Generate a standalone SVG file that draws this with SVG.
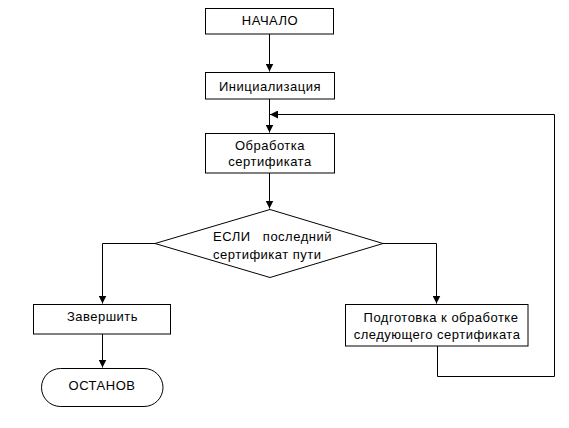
<svg xmlns="http://www.w3.org/2000/svg" width="569" height="428" viewBox="0 0 569 428">
<defs>
<style>
.box{fill:#fff;stroke:#000;stroke-width:1}
.ln{fill:none;stroke:#000;stroke-width:1}
text{font-family:"Liberation Sans",Arial,sans-serif;font-size:13px;fill:#000;letter-spacing:0.5px}
.c{text-anchor:middle}
</style>
<marker id="ah" viewBox="0 0 10 10" refX="10" refY="5" markerWidth="8" markerHeight="8" markerUnits="userSpaceOnUse" orient="auto">
<path d="M0,0 L10,5 L0,10 z" fill="#000"/>
</marker>
</defs>
<rect width="569" height="428" fill="#fff"/>
<g id="connectors">
<path class="ln" d="M269.5,34 V71.5" marker-end="url(#ah)"/>
<path class="ln" d="M269.5,99 V132.5" marker-end="url(#ah)"/>
<path class="ln" d="M269.5,173 V208.5" marker-end="url(#ah)"/>
<path class="ln" d="M155,243.5 H102.5 V303.5" marker-end="url(#ah)"/>
<path class="ln" d="M102.5,334 V367.5" marker-end="url(#ah)"/>
<path class="ln" d="M383,243.5 H436.5 V303.5" marker-end="url(#ah)"/>
<path class="ln" d="M437.5,346 V376.5 H554.5 V114.5 H270" marker-end="url(#ah)"/>
</g>
<g id="start">
<rect class="box" x="205.5" y="8.5" width="128" height="25.5"/>
<text class="c" x="270" y="25">НАЧАЛО</text>
</g>
<g id="init">
<rect class="box" x="205.5" y="72.5" width="129" height="26.5"/>
<text class="c" x="270" y="91">Инициализация</text>
</g>
<g id="process">
<rect class="box" x="205.5" y="133.5" width="129" height="39.5"/>
<text class="c" x="270" y="150">Обработка</text>
<text class="c" x="270" y="166">сертификата</text>
</g>
<g id="decision">
<polygon class="box" points="270,209.5 383,243.5 270,277.5 155,243.5"/>
<text x="213" y="241" xml:space="preserve">ЕСЛИ   последний</text>
<text x="213" y="259">сертификат пути</text>
</g>
<g id="finish">
<rect class="box" x="33.5" y="304.5" width="137" height="29.5"/>
<text class="c" x="102.5" y="321">Завершить</text>
</g>
<g id="stop">
<rect class="box" x="41.5" y="368.5" width="121.5" height="38" rx="19" ry="19"/>
<text class="c" x="102" y="390">ОСТАНОВ</text>
</g>
<g id="next">
<rect class="box" x="345.5" y="304.5" width="182.5" height="41.5"/>
<text class="c" x="441" y="322">Подготовка к обработке</text>
<text class="c" x="437" y="339">следующего сертификата</text>
</g>
</svg>
